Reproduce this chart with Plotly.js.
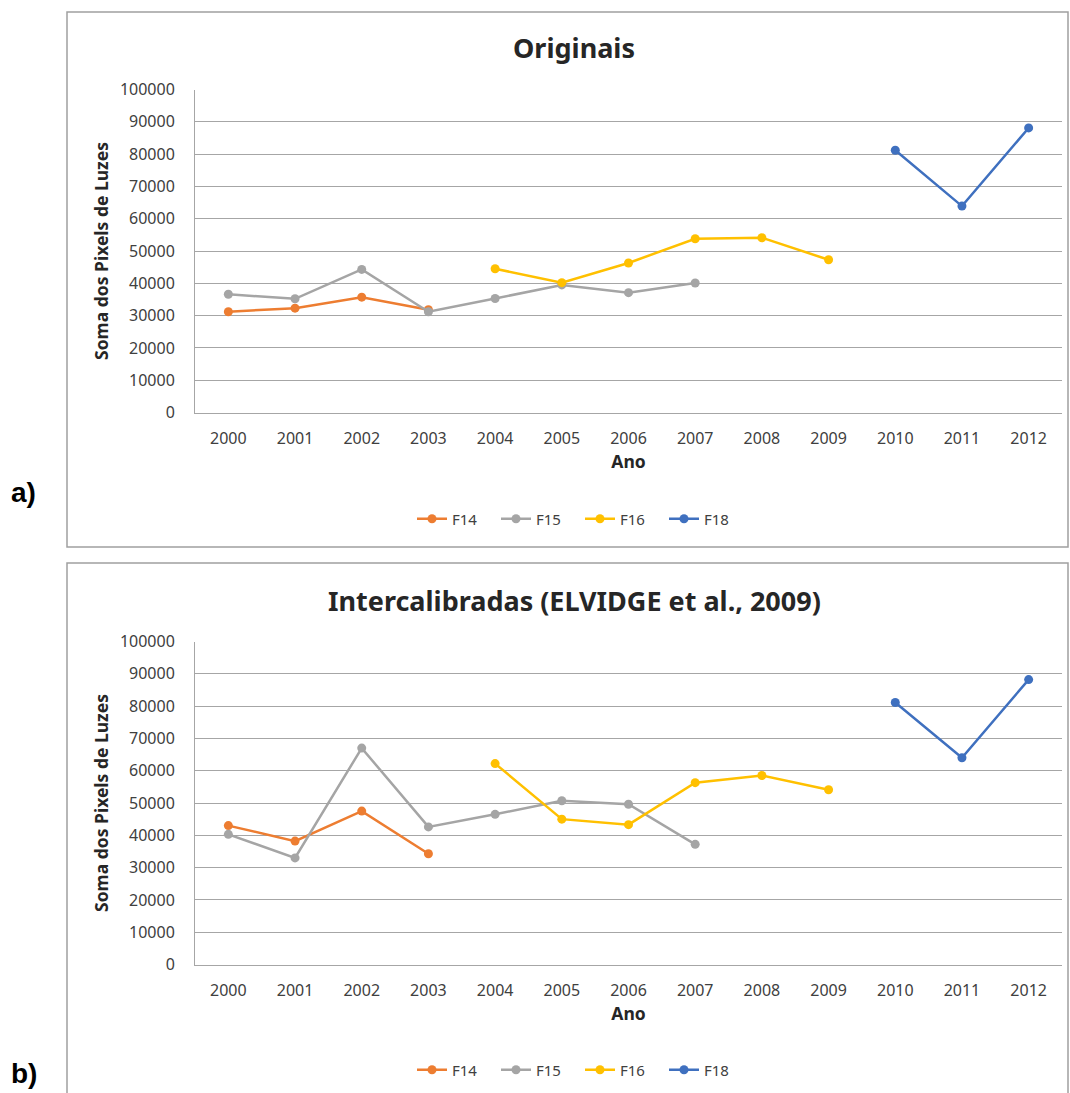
<!DOCTYPE html>
<html>
<head>
<meta charset="utf-8">
<script src="https://cdn.plot.ly/plotly-3.0.1.min.js"></script>
<style>html,body{margin:0;padding:0;background:#fff;}#chart{width:1070px;height:1093px;}</style>
</head>
<body>
<div id="chart"></div>
<script>
const years = ['2000','2001','2002','2003','2004','2005','2006','2007','2008','2009','2010','2011','2012'];
const seriesNames = ['F14','F15','F16','F18'];
const seriesColors = ['#ED7D31','#A5A5A5','#FFC000','#3F70BF'];

// Panel a) Originais
const a_F14_years = ['2000','2001','2002','2003'];
const a_F14 = [31200, 32300, 35700, 31800];
const a_F15_years = ['2000','2001','2002','2003','2004','2005','2006','2007'];
const a_F15 = [36600, 35200, 44300, 31200, 35300, 39500, 37100, 40100];
const a_F16_years = ['2004','2005','2006','2007','2008','2009'];
const a_F16 = [44500, 40200, 46300, 53800, 54100, 47300];
const a_F18_years = ['2010','2011','2012'];
const a_F18 = [81200, 63900, 88100];

// Panel b) Intercalibradas
const b_F14_years = ['2000','2001','2002','2003'];
const b_F14 = [43000, 38200, 47500, 34300];
const b_F15_years = ['2000','2001','2002','2003','2004','2005','2006','2007'];
const b_F15 = [40300, 33000, 67000, 42600, 46500, 50700, 49600, 37200];
const b_F16_years = ['2004','2005','2006','2007','2008','2009'];
const b_F16 = [62200, 45000, 43300, 56300, 58500, 54100];
const b_F18_years = ['2010','2011','2012'];
const b_F18 = [81100, 64000, 88200];

const yTicks = [0,10000,20000,30000,40000,50000,60000,70000,80000,90000,100000];

const titleA = 'Originais';
const titleB = 'Intercalibradas (ELVIDGE et al., 2009)';
const yTitle = 'Soma dos Pixels de Luzes';
const xTitle = 'Ano';

const W = 1070, H = 1093;
const px = v => v / W;
const py = v => 1 - v / H;

const panelA = [[a_F14_years,a_F14],[a_F15_years,a_F15],[a_F16_years,a_F16],[a_F18_years,a_F18]];
const panelB = [[b_F14_years,b_F14],[b_F15_years,b_F15],[b_F16_years,b_F16],[b_F18_years,b_F18]];

const traces = [];
panelA.forEach((s, i) => {
  traces.push({
    type:'scatter', mode:'lines+markers', name: seriesNames[i],
    x: s[0], y: s[1], xaxis:'x', yaxis:'y', legend:'legend',
    line:{color: seriesColors[i], width:2.5},
    marker:{color: seriesColors[i], size:9}
  });
});
panelB.forEach((s, i) => {
  traces.push({
    type:'scatter', mode:'lines+markers', name: seriesNames[i],
    x: s[0], y: s[1], xaxis:'x2', yaxis:'y2', legend:'legend2',
    line:{color: seriesColors[i], width:2.5},
    marker:{color: seriesColors[i], size:9}
  });
});

const tickFont = {family:'Noto Sans, sans-serif', size:16, color:'#404040'};
const axTitleFont = {family:'Noto Sans, sans-serif', size:17.5, color:'#262626'};

function xAxis(anchor){
  return {
    type:'category', categoryorder:'array', categoryarray: years,
    range:[-0.5, 12.5], anchor: anchor, domain:[px(195), px(1062)],
    showgrid:false, showline:true, linecolor:'#a6a6a6', linewidth:1,
    ticks:'', tickfont: tickFont, ticklabelstandoff: 11,
    title:{text:'<b>'+xTitle+'</b>', font: axTitleFont, standoff: 6},
    fixedrange:true, zeroline:false
  };
}
function yAxis(anchor, topPx, botPx){
  return {
    range:[0,100000], tickvals: yTicks, ticktext: yTicks.map(String),
    anchor: anchor, domain:[py(botPx), py(topPx)],
    showgrid:true, gridcolor:'#a6a6a6', gridwidth:1,
    showline:true, linecolor:'#a6a6a6', linewidth:1,
    ticks:'', tickfont: tickFont, ticklabelstandoff: 16,
    title:{text:'<b>'+yTitle+'</b>', font: axTitleFont, standoff: 6},
    zeroline:false, fixedrange:true
  };
}

const legendFont = {family:'Noto Sans, sans-serif', size:15, color:'#404040'};

const layout = {
  width: W, height: H,
  margin:{l:0,r:0,t:0,b:0,pad:0},
  paper_bgcolor:'#ffffff', plot_bgcolor:'#ffffff',
  font:{family:'Noto Sans, sans-serif'},
  xaxis: xAxis('y'),
  yaxis: yAxis('x', 89.5, 412.5),
  xaxis2: xAxis('y2'),
  yaxis2: yAxis('x2', 641.5, 964.5),
  legend:{orientation:'h', x:px(580), y:py(519), xanchor:'center', yanchor:'middle',
    font: legendFont, itemwidth:30, entrywidth:39, entrywidthmode:'pixels', tracegroupgap:0},
  legend2:{orientation:'h', x:px(580), y:py(1070), xanchor:'center', yanchor:'middle',
    font: legendFont, itemwidth:30, entrywidth:39, entrywidthmode:'pixels', tracegroupgap:0},
  shapes:[
    {type:'rect', xref:'paper', yref:'paper', x0:px(67), x1:px(1068), y0:py(547), y1:py(12),
     line:{color:'#a0a0a0', width:1.5}, fillcolor:'rgba(0,0,0,0)', layer:'below'},
    {type:'rect', xref:'paper', yref:'paper', x0:px(67), x1:px(1068), y0:py(1100), y1:py(563),
     line:{color:'#a0a0a0', width:1.5}, fillcolor:'rgba(0,0,0,0)', layer:'below'}
  ],
  annotations:[
    {text:'<b>'+titleA+'</b>', xref:'paper', yref:'paper', x:px(574), y:py(48), xanchor:'center', yanchor:'middle',
     showarrow:false, font:{family:'Noto Sans, sans-serif', size:27, color:'#262626'}},
    {text:'<b>'+titleB+'</b>', xref:'paper', yref:'paper', x:px(574), y:py(600), xanchor:'center', yanchor:'middle',
     showarrow:false, font:{family:'Noto Sans, sans-serif', size:27, color:'#262626'}},
    {text:'<b>a)</b>', xref:'paper', yref:'paper', x:px(9), y:py(493), xanchor:'left', yanchor:'middle',
     showarrow:false, font:{family:'Liberation Sans, Arial, sans-serif', size:28, color:'#000000'}},
    {text:'<b>b)</b>', xref:'paper', yref:'paper', x:px(9), y:py(1073), xanchor:'left', yanchor:'middle',
     showarrow:false, font:{family:'Liberation Sans, Arial, sans-serif', size:28, color:'#000000'}}
  ],
  showlegend:true
};

Plotly.newPlot('chart', traces, layout, {staticPlot:true, displayModeBar:false});
</script>
</body>
</html>
